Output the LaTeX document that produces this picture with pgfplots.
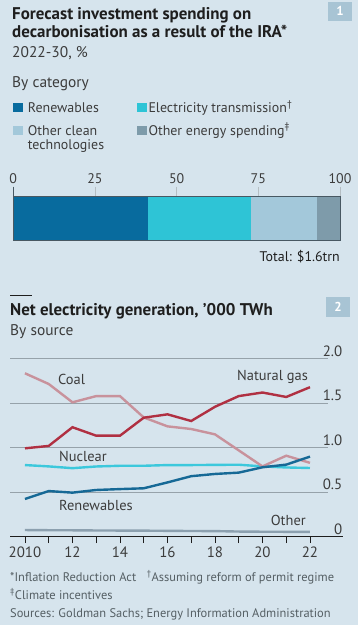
\documentclass[border=0pt]{standalone}
\usepackage{fontspec}
\setmainfont{PT Sans}
\usepackage{pgfplots}
\pgfplotsset{compat=1.18}
\definecolor{bg}{RGB}{214,228,237}
\definecolor{cren}{RGB}{8,107,158}
\definecolor{ctra}{RGB}{46,196,214}
\definecolor{ccle}{RGB}{163,200,218}
\definecolor{coth}{RGB}{126,155,170}
\definecolor{border}{RGB}{72,88,98}
\definecolor{lgas}{RGB}{176,48,66}
\definecolor{lcoal}{RGB}{200,146,156}
\definecolor{lnuc}{RGB}{60,200,220}
\definecolor{lren}{RGB}{22,105,150}
\definecolor{loth}{RGB}{140,160,175}
\definecolor{gridc}{RGB}{150,162,170}
\definecolor{boxc}{RGB}{168,196,212}
\definecolor{txt}{RGB}{30,30,30}
\definecolor{subt}{RGB}{60,60,60}
\definecolor{foot}{RGB}{85,95,100}
\begin{document}
\begin{tikzpicture}
\fill[bg] (0,0) rectangle (358bp,-625bp);
% panel 1 header
\fill[boxc] (328.3bp,-1.7bp) rectangle (351.7bp,-20.7bp);
\node[text=white,font=\bfseries\fontsize{13}{13}\selectfont] at (340bp,-11.2bp) {1};
\node[anchor=base west,inner sep=0,text=txt,font=\bfseries\fontsize{17}{20}\selectfont] at (12bp,-19bp) {Forecast investment spending on};
\node[anchor=base west,inner sep=0,text=txt,font=\bfseries\fontsize{17}{20}\selectfont] at (12bp,-37.5bp) {decarbonisation as a result of the IRA*};
\node[anchor=base west,inner sep=0,text=subt,font=\fontsize{15.5}{18}\selectfont] at (12bp,-57.5bp) {2022-30, \%};
\node[anchor=base west,inner sep=0,text=subt,font=\fontsize{15.5}{18}\selectfont] at (12bp,-87.3bp) {By category};
% legend
\fill[cren] (13.3bp,-103.3bp) rectangle (23.3bp,-112.3bp);
\fill[ctra] (136.7bp,-103.3bp) rectangle (146.7bp,-112.3bp);
\fill[ccle] (13.3bp,-126bp) rectangle (23.3bp,-135bp);
\fill[coth] (136.7bp,-126bp) rectangle (146.7bp,-135bp);
\begin{scope}[every node/.style={anchor=base west,inner sep=0,text=subt,font=\fontsize{14}{15}\selectfont}]
\node at (27.7bp,-112.3bp) {Renewables};
\node at (148.3bp,-112.3bp) {Electricity transmission\textsuperscript{†}};
\node at (27.7bp,-135bp) {Other clean};
\node at (27.7bp,-149bp) {technologies};
\node at (148.3bp,-135bp) {Other energy spending\textsuperscript{‡}};
\end{scope}
% bar chart
\begin{axis}[at={(13.3bp,-240bp)},anchor=south west,width=326.7bp,height=43.3bp,scale only axis,
  xbar stacked, xmin=0,xmax=100,ymin=0,ymax=1,bar width=43.3bp,axis on top,
  axis line style={draw=border,line width=0.8bp},
  ytick=\empty, xtick={0,25,50,75,100}, xtick pos=right, xticklabel pos=right,
  tick align=outside, major tick length=10bp,
  xtick style={draw=gridc!70,line width=0.6bp},
  extra x ticks={0}, extra x tick labels={}, extra x tick style={xtick style={draw=border,line width=0.8bp}},
  /pgf/number format/assume math mode=true,
  xticklabel style={font=\fontsize{14}{15}\selectfont,text=subt}]
\addplot[fill=cren,draw=none] coordinates {(41.3,0.5)};
\addplot[fill=ctra,draw=none] coordinates {(31.4,0.5)};
\addplot[fill=ccle,draw=none] coordinates {(20.2,0.5)};
\addplot[fill=coth,draw=none] coordinates {(7.1,0.5)};
\end{axis}
\node[anchor=base east,inner sep=0,text=txt,font=\fontsize{14}{15}\selectfont] at (340bp,-261.7bp) {Total: \$1.6trn};
% panel 2 header
\draw[txt,line width=1.3bp] (10bp,-295.7bp) -- (32bp,-295.7bp);
\fill[boxc] (326bp,-297bp) rectangle (350bp,-317bp);
\node[text=white,font=\bfseries\fontsize{13}{13}\selectfont] at (338bp,-307bp) {2};
\node[anchor=base west,inner sep=0,text=txt,font=\bfseries\fontsize{17}{20}\selectfont] at (10bp,-315bp) {Net electricity generation, ’000 TWh};
\node[anchor=base west,inner sep=0,text=subt,font=\fontsize{15.5}{18}\selectfont] at (10bp,-335bp) {By source};
% line chart
\begin{axis}[at={(10bp,-536.7bp)},anchor=south west,width=333bp,height=178bp,scale only axis,
  xmin=2009.37,xmax=2023.39,ymin=0,ymax=2,clip=false,
  axis x line*=bottom, axis y line*=right, y axis line style={draw=none},
  x axis line style={draw=txt,line width=0.9bp},
  xtick={2010,...,2022}, xticklabels={2010,,12,,14,,16,,18,,20,,22},
  tick align=outside, major tick length=6.5bp,
  xtick style={draw=txt,line width=0.8bp},
  ytick={0,0.5,1,1.5,2}, yticklabels={0,0.5,1.0,1.5,2.0}, ytick style={draw=none},
  yticklabel style={anchor=south east,inner sep=0pt,xshift=-7bp,yshift=2bp},
  /pgf/number format/assume math mode=true,
  ticklabel style={font=\fontsize{15}{16}\selectfont,text=subt}]
\foreach \v in {0.5,1,1.5,2} {\edef\tmp{\noexpand\draw[gridc,line width=0.7bp] (axis cs:2009.37,\v) -- (axis cs:2022.76,\v);}\tmp}
\addplot[loth,line width=2.4bp] coordinates {(2010,0.075)(2011,0.073)(2012,0.072)(2013,0.070)(2014,0.069)(2015,0.068)(2016,0.066)(2017,0.064)(2018,0.063)(2019,0.058)(2020,0.056)(2021,0.055)(2022,0.054)};
\addplot[lnuc,line width=2.4bp] coordinates {(2010,0.805)(2011,0.790)(2012,0.770)(2013,0.789)(2014,0.797)(2015,0.797)(2016,0.805)(2017,0.805)(2018,0.807)(2019,0.809)(2020,0.790)(2021,0.778)(2022,0.772)};
\addplot[lcoal,line width=2.4bp] coordinates {(2010,1.836)(2011,1.716)(2012,1.51)(2013,1.58)(2014,1.58)(2015,1.34)(2016,1.24)(2017,1.21)(2018,1.15)(2019,0.97)(2020,0.79)(2021,0.91)(2022,0.83)};
\addplot[lren,line width=2.4bp] coordinates {(2010,0.424)(2011,0.513)(2012,0.495)(2013,0.525)(2014,0.535)(2015,0.544)(2016,0.61)(2017,0.68)(2018,0.705)(2019,0.72)(2020,0.78)(2021,0.81)(2022,0.90)};
\addplot[lgas,line width=2.4bp] coordinates {(2010,0.993)(2011,1.02)(2012,1.23)(2013,1.135)(2014,1.135)(2015,1.337)(2016,1.375)(2017,1.30)(2018,1.46)(2019,1.58)(2020,1.62)(2021,1.57)(2022,1.68)};
\begin{scope}[every node/.style={inner sep=0,text=subt,font=\fontsize{14.5}{16}\selectfont}]
\node[anchor=west] at (axis cs:2011.39,1.772) {Coal};
\node[anchor=east] at (axis cs:2021.92,1.794) {Natural gas};
\node[anchor=west] at (axis cs:2011.43,0.907) {Nuclear};
\node[anchor=west] at (axis cs:2011.43,0.348) {Renewables};
\node[anchor=east] at (axis cs:2021.83,0.188) {Other};
\end{scope}
\end{axis}
% footnotes
\begin{scope}[every node/.style={anchor=base west,inner sep=0,text=foot,font=\fontsize{12.5}{14}\selectfont}]
\node at (10bp,-581bp) {*Inflation Reduction Act};
\node at (146.7bp,-581bp) {\textsuperscript{†}Assuming reform of permit regime};
\node at (10bp,-599bp) {\textsuperscript{‡}Climate incentives};
\node at (10bp,-617bp) {Sources: Goldman Sachs; Energy Information Administration};
\end{scope}
\pgfresetboundingbox
\path[use as bounding box] (0,0) rectangle (358bp,-625bp);
\end{tikzpicture}
\end{document}
